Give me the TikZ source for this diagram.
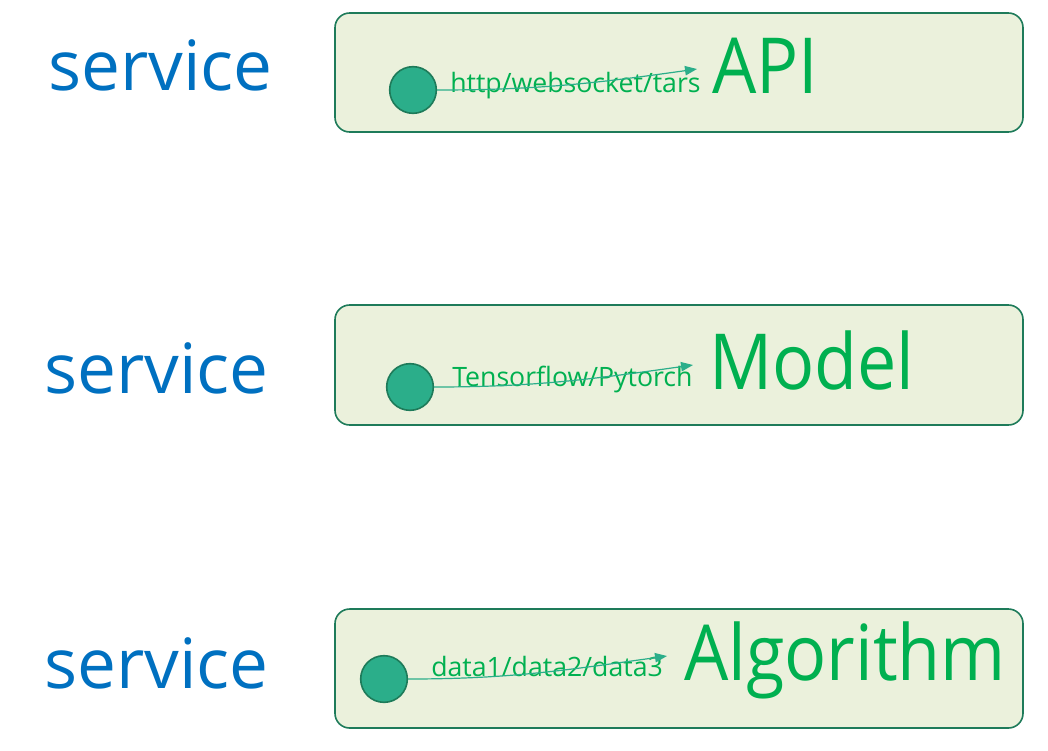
\documentclass[tikz,border=0pt]{standalone}
\usepackage{fontspec}
\setmainfont{Open Sans}
\usetikzlibrary{arrows.meta}
\definecolor{boxfill}{HTML}{EBF1DC}
\definecolor{boxline}{HTML}{1E7B5A}
\definecolor{dotfill}{HTML}{2BAE8A}
\definecolor{labgreen}{HTML}{00B050}
\definecolor{svcblue}{HTML}{0070C0}
\newcommand{\narrow}[1]{\scalebox{0.905}[1]{#1}}
\tikzset{
  panel/.style={draw=boxline, fill=boxfill, line width=1.2pt, rounded corners=11pt},
  dot/.style={circle, draw=boxline, fill=dotfill, line width=1.2pt, minimum size=35pt, inner sep=0pt},
  flow/.style={draw=dotfill, line width=0.9pt, -{Triangle[length=9pt,width=7pt]}},
  proto/.style={text=labgreen, font=\fontsize{20}{24}\selectfont, anchor=base west, inner sep=0pt},
  big/.style={text=labgreen, font=\fontsize{58}{64}\selectfont, anchor=base west, inner sep=0pt},
  svc/.style={text=svcblue, font=\fontsize{52}{58}\selectfont, anchor=base west, inner sep=0pt}
}
\begin{document}
\begin{tikzpicture}[x=0.75pt,y=-0.75pt]
\useasboundingbox (0,0) rectangle (1048,750);
% row 1
\node[svc] (s1) at (48,90) {service};
\path[panel] (335,13) rectangle (1023,132);
\node[dot] (c1) at (413,90) {};
\node[proto] (p1) at (450,92) {http/websocket/tars};
\node[big] (b1) at (712,93) {\narrow{API}};
\coordinate (e1) at (697,69);
\draw[flow] (c1.east) to[out=0,in=188] (e1);
% row 2
\node[svc] (s2) at (44,393) {service};
\path[panel] (335,305) rectangle (1023,425);
\node[dot] (c2) at (410,387) {};
\node[proto] (p2) at (452,386) {Tensorflow/Pytorch};
\node[big] (b2) at (709,389) {\narrow{Model}};
\coordinate (e2) at (693,365);
\draw[flow] (c2.east) to[out=0,in=188] (e2);
% row 3
\node[svc] (s3) at (44,688) {service};
\path[panel] (335,609) rectangle (1023,728);
\node[dot] (c3) at (384,679) {};
\node[proto] (p3) at (431,676) {data1/data2/data3};
\node[big] (b3) at (684,680) {\narrow{Algorithm}};
\coordinate (e3) at (667,656);
\draw[flow] (c3.east) to[out=0,in=188] (e3);
\end{tikzpicture}
\end{document}
